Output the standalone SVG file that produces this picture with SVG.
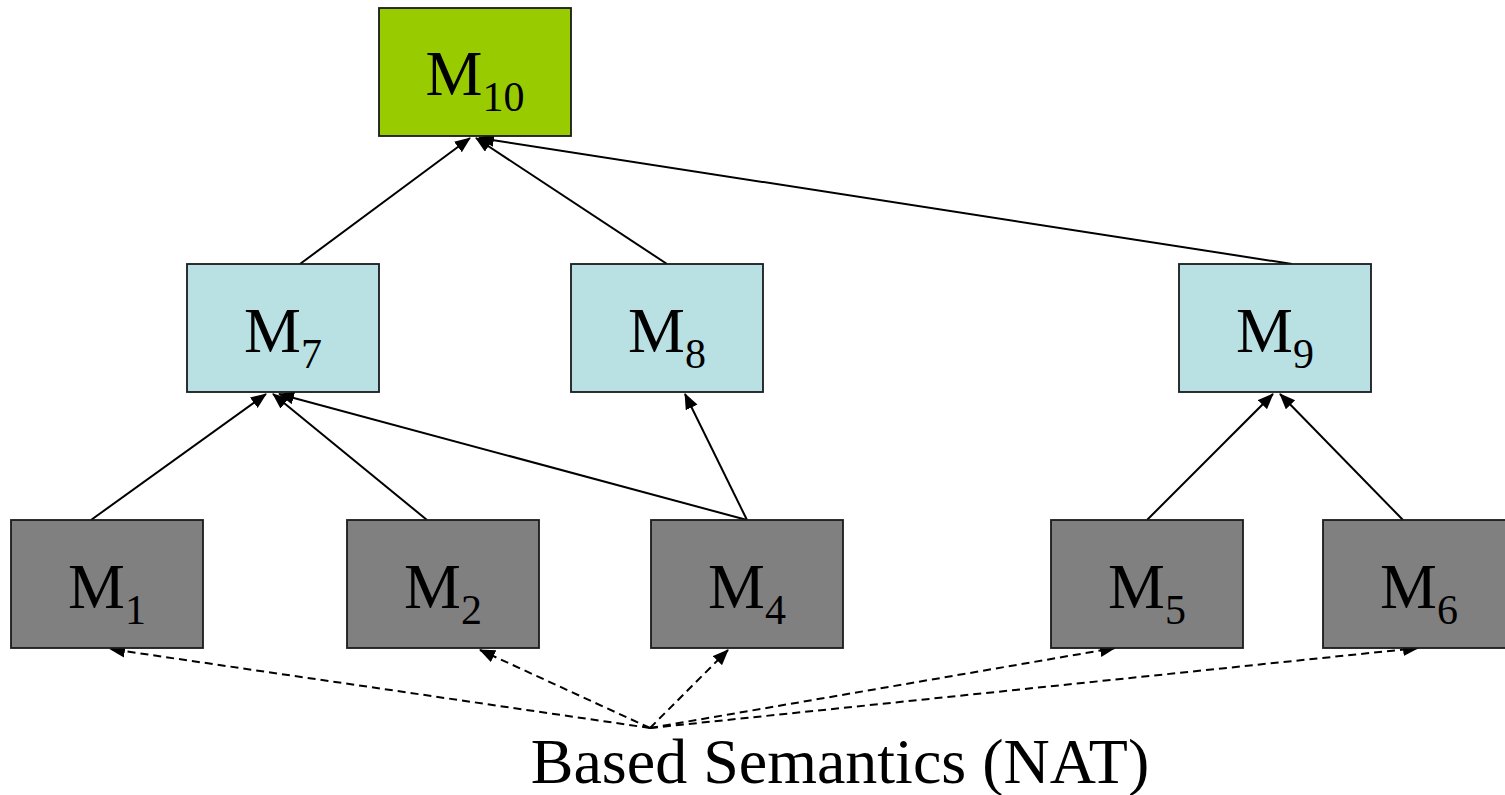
<svg xmlns="http://www.w3.org/2000/svg" width="1505" height="795" viewBox="0 0 1505 795">
<style>
.box{stroke:#1a1a1a;stroke-width:1.8}
.g{fill:#99cc00}
.b{fill:#b9e0e3}
.d{fill:#808080}
.lbl{font-size:64px;fill:#000;text-anchor:middle}
.sub{font-size:42px}
.e{stroke:#000;stroke-width:2;fill:none;marker-end:url(#ah)}
.dash{stroke:#000;stroke-width:2;fill:none;stroke-dasharray:8 5;marker-end:url(#ah)}
</style>
<defs>
<marker id="ah" markerWidth="16" markerHeight="14" refX="15" refY="6.5" orient="auto" markerUnits="userSpaceOnUse">
<path d="M0,0 L16,6.5 L0,13 Z" fill="#000"/>
</marker>
</defs>
<rect width="1505" height="795" fill="#fff"/>
<g id="connectors">
<line class="e" x1="300" y1="264" x2="470" y2="138"/>
<line class="e" x1="667" y1="264" x2="476" y2="138"/>
<line class="e" x1="1292" y1="264" x2="479" y2="138"/>
<line class="e" x1="91" y1="520" x2="266" y2="394"/>
<line class="e" x1="427" y1="520" x2="273" y2="394"/>
<line class="e" x1="747" y1="520" x2="279" y2="394"/>
<line class="e" x1="747" y1="520" x2="685" y2="394"/>
<line class="e" x1="1147" y1="520" x2="1273" y2="394"/>
<line class="e" x1="1403" y1="520" x2="1280" y2="394"/>
<line class="dash" x1="650" y1="728" x2="110" y2="649"/>
<line class="dash" x1="650" y1="728" x2="480" y2="650"/>
<line class="dash" x1="650" y1="728" x2="728" y2="650"/>
<line class="dash" x1="650" y1="728" x2="1115" y2="648"/>
<line class="dash" x1="650" y1="728" x2="1418" y2="648"/>
</g>
<g font-family="'Liberation Serif', 'Times New Roman', 'DejaVu Serif', serif">
<g id="M10"><rect class="box g" x="379" y="8" width="192" height="128"/><text class="lbl" x="475" y="95">M<tspan class="sub" dy="16">10</tspan></text></g>
<g id="M7"><rect class="box b" x="187" y="264" width="192" height="128"/><text class="lbl" x="283" y="352">M<tspan class="sub" dy="16">7</tspan></text></g>
<g id="M8"><rect class="box b" x="571" y="264" width="192" height="128"/><text class="lbl" x="667" y="352">M<tspan class="sub" dy="16">8</tspan></text></g>
<g id="M9"><rect class="box b" x="1179" y="264" width="192" height="128"/><text class="lbl" x="1275" y="352">M<tspan class="sub" dy="16">9</tspan></text></g>
<g id="M1"><rect class="box d" x="11" y="520" width="192" height="128"/><text class="lbl" x="107" y="608">M<tspan class="sub" dy="16">1</tspan></text></g>
<g id="M2"><rect class="box d" x="347" y="520" width="192" height="128"/><text class="lbl" x="443" y="608">M<tspan class="sub" dy="16">2</tspan></text></g>
<g id="M4"><rect class="box d" x="651" y="520" width="192" height="128"/><text class="lbl" x="747" y="608">M<tspan class="sub" dy="16">4</tspan></text></g>
<g id="M5"><rect class="box d" x="1051" y="520" width="192" height="128"/><text class="lbl" x="1147" y="608">M<tspan class="sub" dy="16">5</tspan></text></g>
<g id="M6"><rect class="box d" x="1323" y="520" width="192" height="128"/><text class="lbl" x="1419" y="608">M<tspan class="sub" dy="16">6</tspan></text></g>
<g id="caption"><text class="lbl" x="840" y="783">Based Semantics (NAT)</text></g>
</g>
</svg>
